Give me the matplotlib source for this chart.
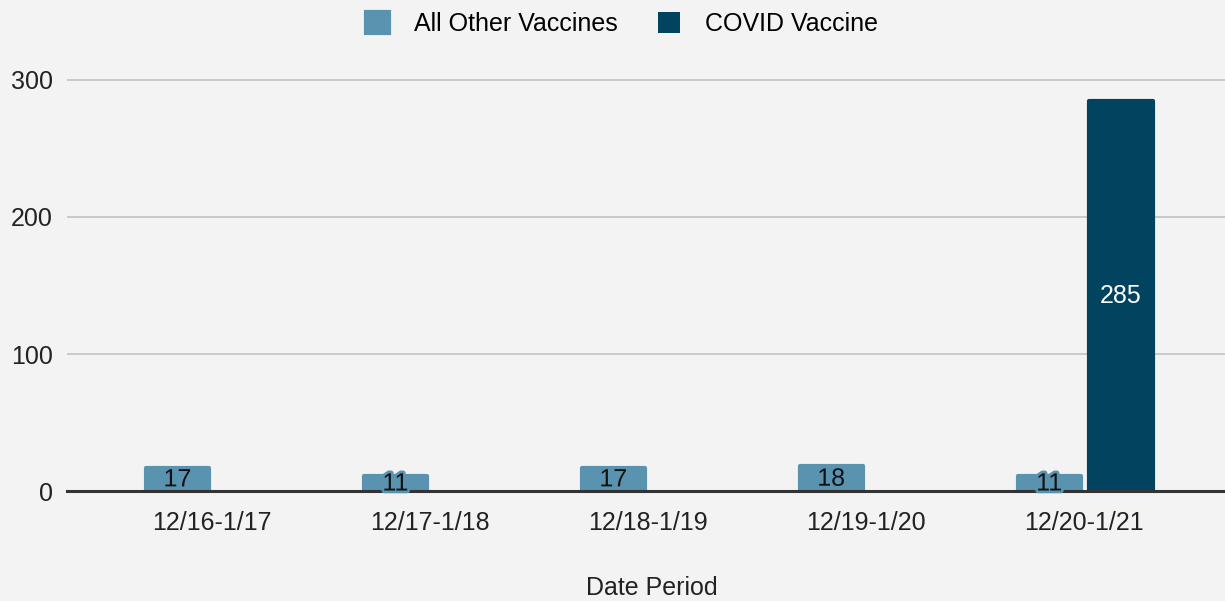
import numpy as np
import matplotlib.pyplot as plt
import matplotlib.patheffects as pe

plt.rcParams['font.family'] = ['Liberation Sans', 'DejaVu Sans']

periods = ['12/16-1/17', '12/17-1/18', '12/18-1/19', '12/19-1/20', '12/20-1/21']
other_vals = [17, 11, 17, 18, 11]
covid_vals = [0, 0, 0, 0, 285]

c_other = '#5a93b0'
c_covid = '#02445f'
bg = '#f3f3f3'
fs = 18

fig = plt.figure(figsize=(12.25, 6.01), dpi=100, facecolor=bg)
ax = fig.add_axes([0.055, 0.183, 0.945, 0.7067])
ax.set_facecolor(bg)

x = np.arange(len(periods))
w = 0.29
lw_other = [3 if v > 0 else 0 for v in other_vals]
lw_covid = [3 if v > 0 else 0 for v in covid_vals]
b1 = ax.bar(x - 0.16, other_vals, w, color=c_other, edgecolor=c_other,
            linewidth=lw_other, joinstyle='round', label='All Other Vaccines', zorder=3)
b2 = ax.bar(x + 0.17, covid_vals, w, color=c_covid, edgecolor=c_covid,
            linewidth=lw_covid, joinstyle='round', label='COVID Vaccine', zorder=3)

# value labels
for rect, v in zip(b1, other_vals):
    ax.text(rect.get_x() + rect.get_width()/2, v/2, str(v), ha='center', va='center',
            fontsize=fs, color='#111111', zorder=5,
            path_effects=[pe.withStroke(linewidth=4, foreground=c_other)])
for rect, v in zip(b2, covid_vals):
    if v > 0:
        ax.text(rect.get_x() + rect.get_width()/2, v/2, str(v), ha='center', va='center',
                fontsize=fs, color='white', zorder=5)

ax.set_xlim(-0.665, 4.647)
ax.set_ylim(0, 310)
ax.set_yticks([0, 100, 200, 300])
ax.set_xticks(x)
ax.set_xticklabels(periods)
ax.tick_params(axis='both', length=0, labelsize=fs, colors='#222222')
ax.tick_params(axis='x', pad=14.5)
ax.tick_params(axis='y', pad=10.5)
ax.grid(axis='y', color='#c6c6c6', linewidth=1.3, zorder=0)
ax.axhline(0, color='#333333', linewidth=2.2, zorder=4, clip_on=False)
for s in ax.spines.values():
    s.set_visible(False)

fig.text(0.532, 0.021, 'Date Period', fontsize=fs, color='#222222',
         ha='center', va='center')

fig.legend(loc='upper center', bbox_to_anchor=(0.508, 1.017), ncol=2, frameon=False,
           fontsize=fs, handlelength=0.9, handleheight=0.9, handletextpad=1.0,
           columnspacing=1.6)

fig.savefig('out.png', dpi=100, facecolor=bg)
